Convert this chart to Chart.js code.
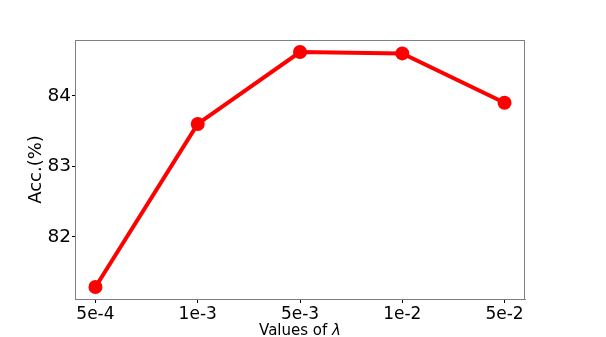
<!DOCTYPE html>
<html>
<head>
<meta charset="utf-8">
<script src="https://cdn.jsdelivr.net/npm/chart.js@4"></script>
<style>
html,body{margin:0;padding:0;background:#fff;}
#wrap{width:606px;height:337px;}
</style>
</head>
<body>
<div id="wrap"><canvas id="c" width="606" height="337"></canvas></div>
<script>
const categories = ["5e-4", "1e-3", "5e-3", "1e-2", "5e-2"];
const accuracy = [81.29, 83.60, 84.62, 84.60, 83.90];
const yTicks = [82, 83, 84];
const xTitleText = "Values of ";
const xTitleSymbol = "λ";

const frame = {
  id: 'frame',
  afterDraw(chart) {
    const a = chart.chartArea, ctx = chart.ctx;
    ctx.save();
    ctx.strokeStyle = '#808080';
    ctx.lineWidth = 1;
    ctx.strokeRect(Math.round(a.left) + 0.5, Math.round(a.top) + 0.5,
      Math.round(a.right - a.left) - 1, Math.round(a.bottom - a.top));
    // x-axis title with italic lambda
    const fNormal = '15px "DejaVu Sans"';
    const fItalic = 'italic 15px "DejaVu Sans"';
    ctx.font = fNormal;
    const w1 = ctx.measureText(xTitleText).width;
    ctx.font = fItalic;
    const w2 = ctx.measureText(xTitleSymbol).width;
    const cx = (a.left + a.right) / 2;
    let x = cx - (w1 + w2) / 2;
    const y = 335;
    ctx.fillStyle = '#000';
    ctx.textBaseline = 'alphabetic';
    ctx.textAlign = 'left';
    ctx.font = fNormal;
    ctx.fillText(xTitleText, x, y);
    ctx.font = fItalic;
    ctx.fillText(xTitleSymbol, x + w1, y);
    ctx.restore();
  }
};

new Chart(document.getElementById('c'), {
  type: 'line',
  data: {
    datasets: [{
      data: accuracy.map((v, i) => ({x: i, y: v})),
      borderColor: '#ff0000',
      backgroundColor: '#ff0000',
      borderWidth: 4,
      pointRadius: 7,
      pointHoverRadius: 7,
      pointBorderWidth: 0,
      tension: 0,
      clip: false
    }]
  },
  options: {
    responsive: false,
    animation: false,
    devicePixelRatio: 1,
    layout: {padding: {top: 40, right: 81, left: 0, bottom: 0}},
    plugins: {legend: {display: false}, tooltip: {enabled: false}},
    scales: {
      x: {
        type: 'linear',
        min: -0.2, max: 4.2,
        afterBuildTicks(s) { s.ticks = categories.map((c, i) => ({value: i})); },
        afterFit(s) { s.height = 38; },
        ticks: {
          color: '#000',
          font: {family: 'DejaVu Sans', size: 17},
          padding: 1,
          maxRotation: 0,
          autoSkip: false,
          callback: (v) => categories[v]
        },
        grid: {display: true, drawOnChartArea: false, drawTicks: true, tickLength: 4, color: '#000'},
        border: {display: true, color: '#808080'},
        title: {display: false}
      },
      y: {
        type: 'linear',
        min: 81.12, max: 84.79,
        afterBuildTicks(s) { s.ticks = yTicks.map(v => ({value: v})); },
        afterFit(s) { s.width = 75; },
        ticks: {
          color: '#000',
          font: {family: 'DejaVu Sans', size: 18.5},
          padding: 1
        },
        grid: {display: true, drawOnChartArea: false, drawTicks: true, tickLength: 3, color: '#000'},
        border: {display: true, color: '#808080'},
        title: {
          display: true,
          text: 'Acc.(%)',
          color: '#000',
          font: {family: 'DejaVu Sans', size: 18, lineHeight: 1},
          padding: {top: 27.5, bottom: 0}
        }
      }
    }
  },
  plugins: [frame]
});
</script>
</body>
</html>
